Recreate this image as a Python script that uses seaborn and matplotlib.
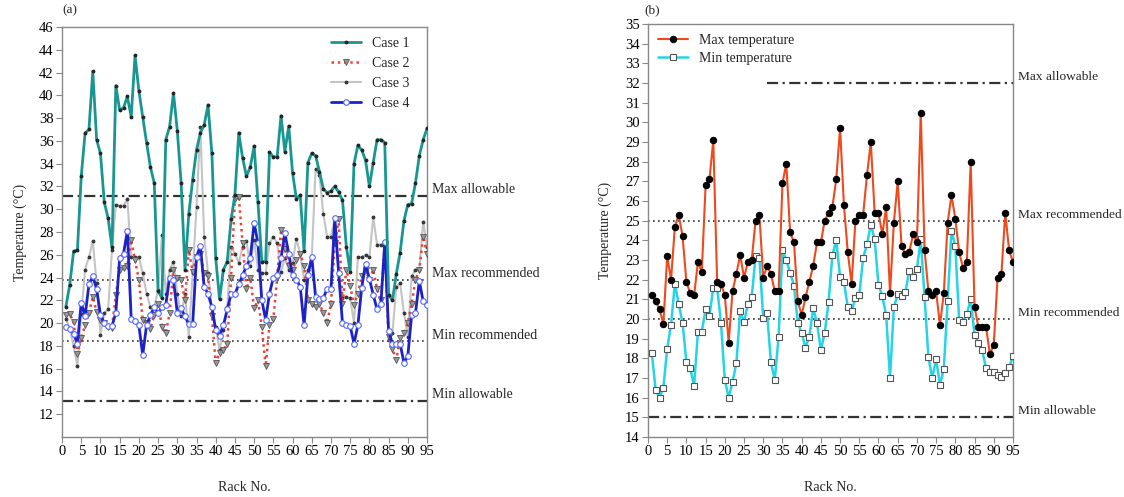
import matplotlib
matplotlib.use("Agg")
import matplotlib.pyplot as plt
import seaborn as sns

# Data: rack 1..95
racks = list(range(1, 96))

case1 = [21.45, 23.35, 26.3, 26.4, 32.9, 36.7, 37.0, 42.1, 36.1, 34.9,
         30.6, 29.2, 26.65, 40.85, 38.7, 38.9, 39.9, 38.1, 43.5, 40.4,
         38.1, 35.85, 33.7, 32.3, 22.8, 22.2, 36.1, 37.25, 40.2, 36.9,
         32.3, 24.7, 29.6, 32.6, 35.2, 36.7, 37.4, 39.15, 34.9, 25.7,
         22.1, 24.7, 25.4, 29.1, 31.25, 36.7, 34.5, 32.9, 33.7, 35.55,
         30.6, 25.4, 25.4, 35.0, 34.6, 34.6, 38.2, 35.05, 37.3, 33.2,
         30.9, 31.25, 26.3, 34.1, 34.9, 34.7, 33.3, 31.8, 31.45, 31.6,
         32.0, 31.5, 30.8, 26.7, 24.5, 34.0, 35.6, 35.2, 34.3, 32.0,
         34.1, 36.1, 36.1, 35.85, 22.5, 22.0, 24.3, 26.2, 29.0, 30.4,
         30.5, 32.3, 34.7, 36.1, 37.1]

case2 = [20.7, 20.8, 20.1, 17.3, 18.7, 19.8, 20.9, 22.3, 21.0, 20.3,
         20.0, 19.7, 19.6, 22.5, 24.7, 24.8, 25.0, 27.3, 25.5, 23.8,
         20.3, 20.0, 19.5, 20.7, 21.7, 19.7, 19.1, 20.9, 24.7, 24.0,
         23.8, 22.0, 26.4, 24.5, 25.8, 26.1, 24.4, 24.1, 20.6, 16.5,
         17.4, 17.6, 18.2, 24.0, 30.9, 31.1, 27.0, 23.0, 24.0, 21.3,
         22.0, 19.7, 16.2, 19.8, 20.4, 24.0, 28.2, 26.5, 25.0, 24.7,
         25.5, 26.1, 25.0, 22.0, 21.7, 21.4, 21.7, 20.9, 20.0, 21.7,
         27.0, 29.1, 21.7, 24.7, 23.3, 21.6, 22.6, 24.1, 24.7, 23.8,
         24.7, 23.0, 22.0, 26.9, 18.8, 17.7, 16.8, 18.7, 19.1, 20.0,
         21.7, 23.8, 24.7, 27.6, 26.1]

case3 = [20.4, 19.5, 18.0, 16.2, 20.8, 24.7, 25.8, 27.2, 23.5, 19.0,
         20.9, 21.2, 26.4, 30.4, 30.3, 30.3, 30.9, 25.8, 25.8, 25.8,
         24.4, 22.6, 21.4, 21.4, 22.9, 27.7, 22.6, 24.7, 25.4, 22.6,
         20.6, 22.6, 18.8, 24.4, 30.2, 37.2, 27.6, 24.4, 21.2, 19.7,
         17.6, 19.4, 21.4, 26.7, 26.1, 25.3, 26.7, 27.2, 25.0, 27.3,
         24.7, 24.4, 24.4, 27.0, 27.6, 27.0, 24.5, 25.7, 24.7, 25.3,
         27.4, 26.1, 23.8, 24.7, 25.8, 33.5, 33.0, 29.6, 27.6, 27.6,
         29.2, 24.4, 22.2, 22.3, 22.2, 20.0, 25.8, 25.8, 26.0, 25.8,
         29.3, 26.9, 26.9, 26.7, 18.5, 19.1, 23.2, 23.5, 20.9, 18.8,
         24.1, 24.7, 24.7, 28.9, 26.7]

case4 = [19.7, 19.5, 19.05, 18.2, 21.8, 20.6, 23.4, 24.1, 23.0, 20.7,
         20.0, 19.75, 19.75, 20.9, 25.7, 26.1, 28.1, 20.4, 20.2, 19.8,
         17.2, 19.8, 20.7, 21.4, 20.85, 21.4, 21.6, 24.0, 23.8, 20.9,
         21.3, 20.6, 19.9, 19.9, 25.8, 26.8, 23.15, 22.6, 21.4, 19.4,
         18.9, 19.8, 21.2, 22.55, 22.55, 23.4, 24.2, 25.0, 25.7, 28.8,
         27.0, 22.0, 20.3, 22.6, 24.0, 24.2, 25.7, 27.9, 26.1, 24.2,
         23.8, 23.2, 19.8, 24.2, 25.8, 22.3, 22.1, 22.2, 23.0, 23.0,
         29.2, 24.4, 20.0, 19.8, 19.75, 18.2, 19.8, 23.1, 25.2, 23.9,
         22.5, 21.2, 21.7, 27.1, 19.3, 18.2, 18.2, 18.2, 16.5, 17.1,
         20.7, 20.9, 23.7, 21.9, 21.6]

max_temp = [21.2, 20.9, 20.5, 19.75, 23.2, 22.0, 24.7, 25.3, 24.2, 21.9,
            21.3, 21.2, 22.9, 22.4, 26.8, 27.1, 29.1, 21.9, 21.8, 21.2,
            18.8, 21.4, 22.3, 23.25, 22.1, 22.9, 23.0, 25.0, 25.3, 22.1,
            22.7, 22.3, 21.4, 21.4, 26.9, 27.9, 24.4, 23.9, 20.9, 20.2,
            21.1, 21.9, 22.7, 23.9, 23.9, 25.0, 25.4, 25.7, 27.1, 29.7,
            25.8, 23.4, 21.8, 25.0, 25.3, 25.3, 27.3, 29.0, 25.4, 25.4,
            24.3, 25.7, 21.3, 24.9, 27.0, 23.7, 23.3, 23.4, 24.3, 23.9,
            30.5, 23.5, 21.4, 21.2, 21.4, 19.7, 21.3, 24.9, 26.3, 25.1,
            23.4, 22.6, 22.9, 28.0, 20.6, 19.6, 19.6, 19.6, 18.2, 18.7,
            22.1, 22.3, 25.4, 23.5, 22.9]

min_temp = [18.25, 16.4, 16.0, 16.5, 18.5, 19.7, 21.8, 20.75, 19.8, 17.8,
            17.5, 16.6, 19.35, 19.35, 20.5, 20.15, 21.6, 21.6, 19.8, 16.9,
            16.0, 16.8, 17.75, 20.4, 19.85, 20.75, 21.1, 23.2, 23.1, 20.05,
            20.3, 17.8, 16.9, 19.1, 23.5, 23.0, 22.35, 21.7, 19.8, 19.3,
            18.55, 19.1, 20.55, 19.8, 18.4, 19.3, 20.85, 23.25, 24.0, 22.15,
            21.9, 20.6, 20.4, 21.05, 21.2, 23.1, 23.8, 24.8, 24.05, 21.75,
            21.15, 20.2, 17.0, 20.6, 21.25, 21.15, 21.35, 22.45, 22.15, 22.55,
            24.05, 21.1, 18.05, 17.0, 17.95, 16.65, 17.45, 20.9, 24.5, 23.7,
            19.95, 19.85, 20.25, 21.0, 19.2, 18.8, 18.4, 17.5, 17.3, 17.3,
            17.15, 17.05, 17.25, 17.55, 18.1]

# limit lines: (label, value, style)
limits_a = [("Max allowable", 31.2, "dashdot"), ("Max recommended", 23.8, "dot"),
            ("Min recommended", 18.4, "dot"), ("Min allowable", 13.2, "dashdot")]
limits_b = [("Max allowable", 32.0, "dashdot"), ("Max recommended", 25.0, "dot"),
            ("Min recommended", 20.0, "dot"), ("Min allowable", 15.0, "dashdot")]

sns.set_style("ticks")
plt.rcParams["font.family"] = ["Liberation Serif", "DejaVu Serif"]
plt.rcParams["font.size"] = 10

fig = plt.figure(figsize=(11.24, 4.97), dpi=100)
ax1 = fig.add_axes([0.0552, 0.1207, 0.3247, 0.825])
ax2 = fig.add_axes([0.5765, 0.1207, 0.3247, 0.8310])

dashdot = (0, (5, 2, 1, 2))
dotted = (0, (1, 2))


def draw_limits(ax, limits, start=None):
    for name, val, kind in limits:
        x0 = 0
        if start is not None and name == "Max allowable":
            x0 = start
        if kind == "dashdot":
            ax.plot([x0, 95], [val, val], color="#333333", lw=1.6, linestyle=dashdot, zorder=1)
        else:
            ax.plot([x0, 95], [val, val], color="#333333", lw=1.2, linestyle=dotted, zorder=1)


# ---- panel (a)
draw_limits(ax1, limits_a)
sns.lineplot(x=racks, y=case3, ax=ax1, color="#c4c4c4", lw=1.5, marker="o", markersize=2,
             markerfacecolor="#333333", markeredgecolor="#333333", label="Case 3", zorder=2)
sns.lineplot(x=racks, y=case2, ax=ax1, color="#e8423a", lw=1.8, linestyle=(0, (1, 1.5)),
             marker="v", markersize=4.5, markerfacecolor="#999999", markeredgecolor="#555555",
             markeredgewidth=0.6, label="Case 2", zorder=3)
sns.lineplot(x=racks, y=case4, ax=ax1, color="#1c22c8", lw=2, marker="o", markersize=4,
             markerfacecolor="white", markeredgecolor="#5566ff", markeredgewidth=0.8,
             label="Case 4", zorder=4)
sns.lineplot(x=racks, y=case1, ax=ax1, color="#18968f", lw=2, marker="o", markersize=2,
             markerfacecolor="#222222", markeredgecolor="#222222", label="Case 1", zorder=5)

ax1.set_xlim(0, 95)
ax1.set_ylim(10, 46)
ax1.set_yticks(range(12, 47, 2))
ax1.set_xticks(range(0, 96, 5))

h, l = ax1.get_legend_handles_labels()
order = [l.index(n) for n in ["Case 1", "Case 2", "Case 3", "Case 4"]]
leg = ax1.legend([h[i] for i in order], [l[i] for i in order], loc="upper right",
                 bbox_to_anchor=(0.98, 1.0), frameon=True, framealpha=1, edgecolor="white",
                 fancybox=False, fontsize=10, handlelength=2.2, labelspacing=0.5,
                 borderaxespad=0.3)
leg.set_zorder(10)

for name, val, kind in limits_a:
    ax1.text(96.3, val + 0.55, name, fontsize=10, va="center", ha="left", clip_on=False)

ax1.text(0.0, 46.9, "(a)", fontsize=9.5, ha="left", va="bottom")

# ---- panel (b)
draw_limits(ax2, limits_b, start=31)
sns.lineplot(x=racks, y=max_temp, ax=ax2, color="#ee4a1e", lw=1.5, marker="o", markersize=4.6,
             markerfacecolor="black", markeredgecolor="black", label="Max temperature", zorder=4)
sns.lineplot(x=racks, y=min_temp, ax=ax2, color="#27d4e6", lw=1.8, marker="s", markersize=4.6,
             markerfacecolor="white", markeredgecolor="#555555", markeredgewidth=0.8,
             label="Min temperature", zorder=3)

ax2.set_xlim(0, 95)
ax2.set_ylim(14, 35)
ax2.set_yticks(range(14, 36, 1))
ax2.set_xticks(range(0, 96, 5))
ax2.legend(loc="upper left", frameon=False, fontsize=10, handlelength=2.2,
           labelspacing=0.4, borderaxespad=0.3)

for name, val, kind in limits_b:
    ax2.text(96.3, val + 0.3, name, fontsize=9.6, va="center", ha="left", clip_on=False)

ax2.text(-1, 35.4, "(b)", fontsize=9.5, ha="left", va="bottom")

for ax in (ax1, ax2):
    for sp in ax.spines.values():
        sp.set_color("#888888")
        sp.set_linewidth(1.0)
    ax.tick_params(axis="both", colors="#888888", labelcolor="black", length=4,
                   width=0.8, labelsize=10.5, pad=2)
    ax.set_xlabel("Rack No.", fontsize=10, labelpad=16)
    ax.set_ylabel("Temperature (°C)", fontsize=10, labelpad=9)

fig.savefig("out.png", dpi=100)
